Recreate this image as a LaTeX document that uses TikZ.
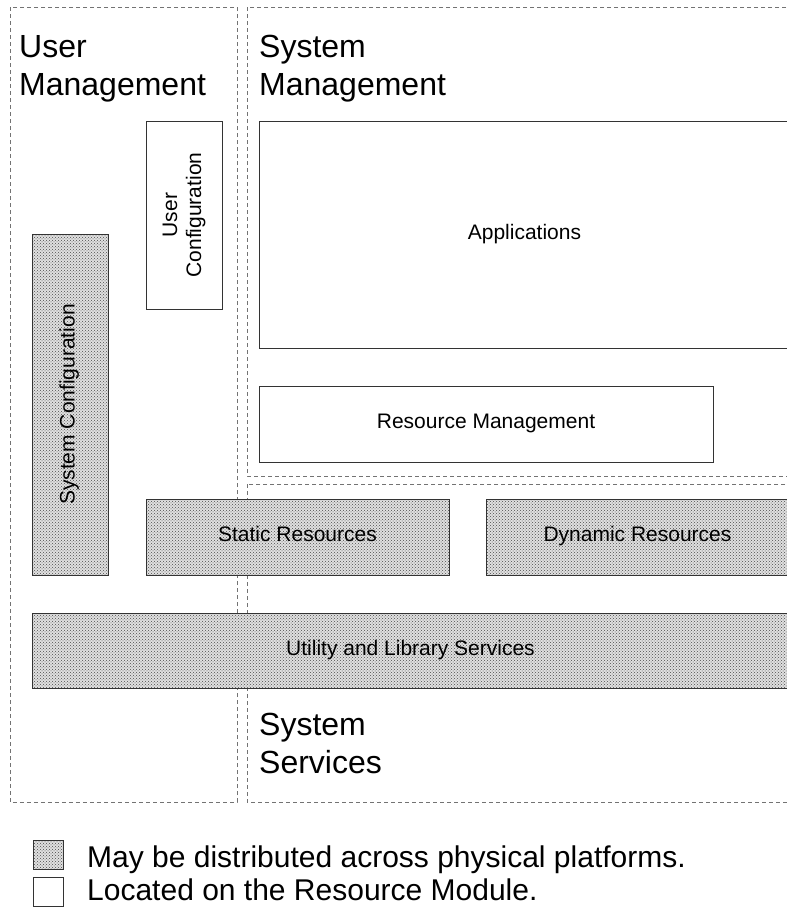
\documentclass[tikz,border=0pt]{standalone}
\usepackage{fontspec}
\setmainfont{Liberation Sans}
\usetikzlibrary{patterns,positioning}

\tikzset{
  areabox/.style={draw=black!55, dash pattern=on 4pt off 3pt, line width=0.8pt},
  module/.style={draw=black!80, line width=0.9pt, fill=white, inner sep=0pt,
    font=\fontsize{21}{24}\selectfont},
  shared/.style={draw=black!80, line width=0.9pt, inner sep=0pt,
    preaction={fill=black!12}, pattern=crosshatch dots, pattern color=black!70,
    font=\fontsize{21}{24}\selectfont},
  oneline/.style={text height=0.9em, text depth=0pt},
  title/.style={anchor=north west, inner sep=0pt, align=left,
    font=\fontsize{32}{38}\selectfont},
  legend/.style={anchor=base west, inner sep=0pt, font=\fontsize{30}{33}\selectfont}
}

\begin{document}
\begin{tikzpicture}[x=1pt,y=-1pt]
  \clip (0,0) rectangle (787,908);
  \fill[white] (0,0) rectangle (787,908);

  % areas
  \draw[areabox] (10,7) rectangle (237,802);
  \draw[areabox] (247,7) rectangle (800,476);
  \draw[areabox] (247,484) rectangle (800,802);
  \node[title] (umgmt) at (19,35) {User\\Management};
  \node[title] (smgmt) at (259,35) {System\\Management};
  \node[title] (ssvc) at (259,713) {System\\Services};

  % modules
  \node[module, oneline, minimum width=531, minimum height=227] (apps) at (524.5,234.5) {Applications};
  \node[module, oneline, minimum width=454, minimum height=76] (rmgmt) at (486,424) {Resource Management};
  \node[module, rotate=90, align=center, minimum width=188, minimum height=76] (ucfg) at (184,215) {User\\Configuration};
  \node[shared, oneline, rotate=90, minimum width=341, minimum height=76] (scfg) at (70,404.5) {System Configuration};
  \node[shared, oneline, minimum width=303, minimum height=76] (stat) at (297.5,537) {Static Resources};
  \node[shared, oneline, minimum width=303, minimum height=76] (dyn) at (637.5,537) {Dynamic Resources};
  \node[shared, oneline, minimum width=757, minimum height=75] (util) at (410.5,650.5) {Utility and Library Services};

  % legend
  \node[shared, minimum width=30, minimum height=29] (keyshared) at (48,854.5) {};
  \node[module, minimum width=30, minimum height=29] (keylocal) at (48,891.5) {};
  \node[legend] (txtshared) at (87,867) {May be distributed across physical platforms.};
  \node[legend] (txtlocal) at (87,900) {Located on the Resource Module.};
\end{tikzpicture}
\end{document}
